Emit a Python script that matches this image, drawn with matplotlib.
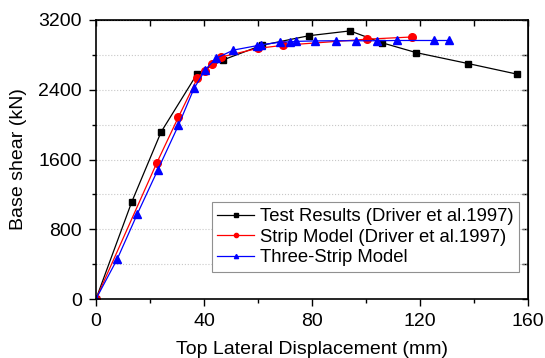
import matplotlib.pyplot as plt
import numpy as np
from matplotlib.ticker import MultipleLocator

plt.rcParams['font.family'] = ['Liberation Sans', 'DejaVu Sans']

# Test Results (Driver et al.1997)
test_x = [0, 13.2, 24.1, 37.5, 46.9, 61.4, 78.9, 94.1, 105.8, 118.7, 137.9, 155.8]
test_y = [0, 1110, 1915, 2585, 2740, 2910, 3020, 3075, 2940, 2825, 2700, 2580]

# Strip Model (Driver et al.1997)
strip_x = [0, 22.5, 30.5, 37.5, 40.2, 42.8, 46.3, 60.0, 69.4, 100.2, 116.9]
strip_y = [0, 1560, 2085, 2530, 2620, 2700, 2775, 2875, 2910, 2980, 3005]

# Three-Strip Model
three_x = [0, 7.9, 15.3, 22.8, 30.5, 36.3, 40.4, 44.4, 50.9, 59.5, 61.0, 68.1,
           72.0, 74.0, 81.0, 89.0, 96.3, 104.0, 111.4, 125.2, 130.9]
three_y = [0, 460, 975, 1475, 1990, 2415, 2625, 2760, 2855, 2905, 2915, 2945,
           2950, 2955, 2960, 2962, 2962, 2962, 2965, 2965, 2965]

fig = plt.figure(figsize=(5.45, 3.58), dpi=100)
ax = fig.add_axes([96/545, 1 - 299/358, 432/545, 279/358])

ax.plot(test_x, test_y, color="black", lw=0.9, marker="s", ms=5, label="Test Results (Driver et al.1997)")
ax.plot(strip_x, strip_y, color="red", lw=0.9, marker="o", ms=5.5, label="Strip Model (Driver et al.1997)")
ax.plot(three_x, three_y, color="blue", lw=0.9, marker="^", ms=5.5, label="Three-Strip Model")

ax.set_xlim(0, 160)
ax.set_ylim(0, 3200)
ax.xaxis.set_major_locator(MultipleLocator(40))
ax.xaxis.set_minor_locator(MultipleLocator(20))
ax.yaxis.set_major_locator(MultipleLocator(800))
ax.yaxis.set_minor_locator(MultipleLocator(400))
ax.grid(which="both", axis="y", color="#c8c8c8", ls=":", lw=0.8)
ax.set_axisbelow(True)

ax.tick_params(which="both", direction="out", labelsize=14, top=False, right=False)
ax.tick_params(which="major", length=5, width=1, pad=5)
ax.tick_params(which="minor", length=3, width=1)
sx = ax.secondary_xaxis("top")
sx.xaxis.set_major_locator(MultipleLocator(20))
sx.tick_params(direction="in", length=4, width=1, labeltop=False)
sy = ax.secondary_yaxis("right")
sy.yaxis.set_major_locator(MultipleLocator(400))
sy.tick_params(direction="in", length=4, width=1, labelright=False)
for s in ax.spines.values():
    s.set_linewidth(1.2)

ax.set_xlabel("Top Lateral Displacement (mm)", fontsize=14, labelpad=8)
ax.set_ylabel("Base shear (kN)", fontsize=14, labelpad=8)

leg = ax.legend(loc="lower right", bbox_to_anchor=(0.979, 0.097), borderaxespad=0,
                fontsize=13.3, fancybox=False, edgecolor="#909090", framealpha=1,
                handlelength=2.0, handletextpad=0.3, borderpad=0.3, labelspacing=0.2,
                markerscale=0.55)
leg.get_frame().set_linewidth(0.8)

fig.savefig("out.png", dpi=100)
